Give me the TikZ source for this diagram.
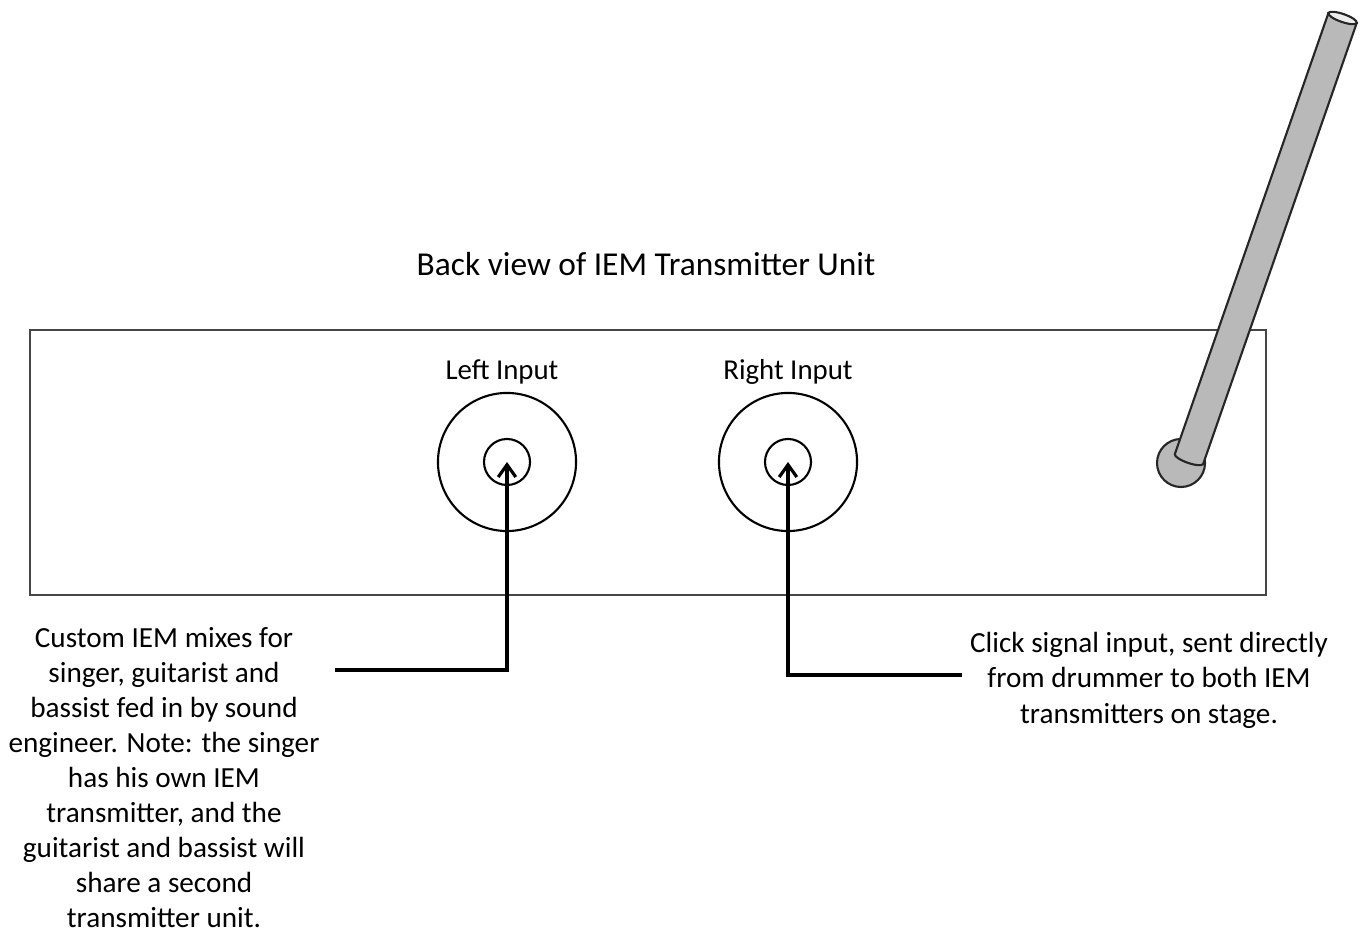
\documentclass[tikz,border=0pt]{standalone}
\usepackage{fontspec}
\setmainfont{Carlito}
\usetikzlibrary{positioning}
\usetikzlibrary{arrows.meta}
\definecolor{antennaGray}{RGB}{185,185,185}
\definecolor{boxGray}{RGB}{70,70,70}
\tikzstyle{unitBox} = [color=boxGray, line width=0.5pt]
\tikzstyle{titleText} = [font={\fontsize{9.5}{11}\selectfont}, anchor=base, inner sep=0]
\tikzstyle{jackLabel} = [font={\fontsize{8.2}{10}\selectfont}, inner sep=0]
\tikzstyle{noteText} = [font={\fontsize{8.3}{9.96}\selectfont}, align=center, inner sep=0, anchor=north]
\tikzstyle{jackOuter} = [circle, draw, line width=0.6pt, minimum size=1.38cm, inner sep=0]
\tikzstyle{jackInner} = [circle, draw, line width=0.6pt, minimum size=0.46cm, inner sep=0]
\tikzstyle{feedLine} = [line width=0.9pt, -{Straight Barb[length=3.5pt, width=5pt]}]
\tikzstyle{antennaStyle} = [draw=black!85, fill=antennaGray, line width=0.6pt]

\begin{document}
\begin{tikzpicture}[x=0.01cm, y=0.01cm]
  \useasboundingbox (0,0) rectangle (1367,933);
  % transmitter unit
  \draw [unitBox] (30,338) rectangle (1266,603);
  \node [titleText] (title) at (646,657) {Back view of IEM Transmitter Unit};

  % inputs
  \node [jackOuter] (leftJack) at (507,471) {};
  \node [jackInner] (leftPin) at (leftJack) {};
  \node [jackOuter] (rightJack) at (788,471) {};
  \node [jackInner] (rightPin) at (rightJack) {};
  \node [jackLabel, above=2pt of leftJack, xshift=-0.05cm] (leftLabel) {Left Input};
  \node [jackLabel, above=2pt of rightJack] (rightLabel) {Right Input};

  % antenna
  \filldraw [antennaStyle] (1181,470) circle (24);
  \begin{scope}[shift={(1189,474)}, rotate=70.8]
    \filldraw [antennaStyle] (467,15) -- (0,15) arc [start angle=90, end angle=270, x radius=4, y radius=15] -- (467,-15) -- cycle;
    \filldraw [antennaStyle, fill=white!75!antennaGray] (467,0) ellipse [x radius=4, y radius=15];
  \end{scope}

  % notes
  \node [noteText] (leftNote) at (164,306) {Custom IEM mixes for\\singer, guitarist and\\bassist fed in by sound\\engineer. Note: the singer\\has his own IEM\\transmitter, and the\\guitarist and bassist will\\share a second\\transmitter unit.};
  \node [noteText] (rightNote) at (1149,301) {Click signal input, sent directly\\from drummer to both IEM\\transmitters on stage.};

  \coordinate (leftFree) at (335,263);
  \coordinate (rightFree) at (962,258);
  \draw [feedLine] (leftFree) -| (leftPin.center);
  \draw [feedLine] (rightFree) -| (rightPin.center);
\end{tikzpicture}
\end{document}
